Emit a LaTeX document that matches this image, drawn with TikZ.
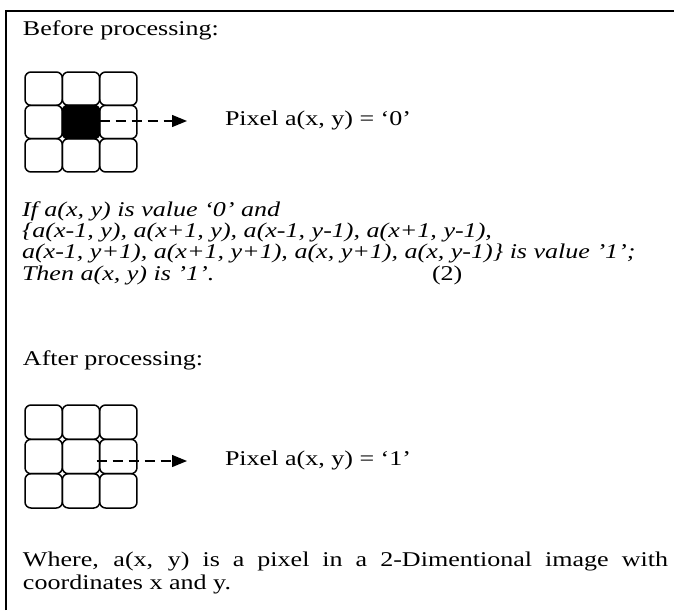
\documentclass[tikz,border=0pt]{standalone}
\usepackage{fontspec}
\setmainfont{Liberation Serif}[FakeStretch=1.24]
\usetikzlibrary{arrows.meta}
\begin{document}
\begin{tikzpicture}[x=1pt,y=-1pt,
  txt/.style={anchor=base west,inner sep=0pt,outer sep=0pt,font=\fontsize{21}{24}\selectfont},
  itxt/.style={txt,font=\fontsize{21}{24}\selectfont\itshape},
  cellA/.style={draw,line width=1.5pt,rounded corners=6pt,minimum width=37.33pt,minimum height=33.33pt,inner sep=0pt,outer sep=0pt},
  cellB/.style={cellA,minimum height=34.33pt},
  dasharrow/.style={line width=1.3pt,dash pattern=on 10pt off 6pt,-{Triangle[length=15pt,width=12pt]}},
  border/.style={line width=2.2pt}]
\useasboundingbox (0,0) rectangle (674,610);
% frame (left and top)
\coordinate (fb) at (6,610);
\coordinate (ftl) at (6,11);
\coordinate (ftr) at (674,11);
\draw[border] (fb) -- (ftl) -- (ftr);

\node[txt] (before) at (23,36) {Before processing:};

% first grid
\foreach \i/\x in {1/43.67,2/81,3/118.33}{
  \foreach \j/\y in {1/88.67,2/122,3/155.33}{
    \node[cellA] (a\i\j) at (\x,\y) {};
  }
}
\node[cellA,fill=black] (a22b) at (81,122) {};
\node[txt] (pix0) at (225,125) {Pixel a(x, y) = ‘0’};
\coordinate (t1) at (187,121);
\draw[dasharrow] (a22b.east |- t1) -- (t1);

% condition text
\node[itxt] (l1) at (22,216) {If a(x, y) is value ‘0’ and};
\node[itxt] (l2) at (22,237) {\{a(x-1, y), a(x+1, y), a(x-1, y-1), a(x+1, y-1),};
\node[itxt] (l3) at (22,258) {a(x-1, y+1), a(x+1, y+1), a(x, y+1), a(x, y-1)\} is value ’1’;};
\node[itxt] (l4) at (22,280) {Then a(x, y) is ’1’.};
\node[txt] (eq) at (432,280) {(2)};

\node[txt] (after) at (23,365) {After processing:};

% second grid
\foreach \i/\x in {1/43.67,2/81,3/118.33}{
  \foreach \j/\y in {1/422.17,2/456.5,3/490.83}{
    \node[cellB] (b\i\j) at (\x,\y) {};
  }
}
\node[txt] (pix1) at (225,465) {Pixel a(x, y) = ‘1’};
\coordinate (t2) at (187,461);
\draw[dasharrow] ([xshift=-3pt]b22.east |- t2) -- (t2);

\node[txt] (w1) at (23,566) {\makebox[645pt][s]{Where, a(x, y) is a pixel in a 2-Dimentional image with}};
\node[txt] (w2) at (23,589) {coordinates x and y.};
\end{tikzpicture}
\end{document}
